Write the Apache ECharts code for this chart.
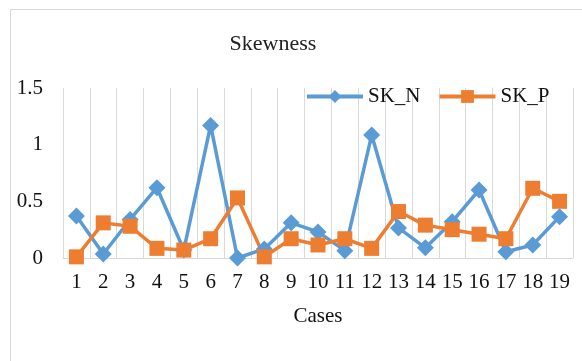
<!DOCTYPE html>
<html>
<head>
<meta charset="utf-8">
<script src="https://cdn.jsdelivr.net/npm/echarts@6/dist/echarts.min.js"></script>
<style>
html,body{margin:0;padding:0;background:#fff;}
#chart{width:582px;height:361px;}
</style>
</head>
<body>
<div id="chart"></div>
<script>
const categories = ['1','2','3','4','5','6','7','8','9','10','11','12','13','14','15','16','17','18','19'];
const skN = [0.37, 0.035, 0.34, 0.62, 0.07, 1.17, 0.0, 0.08, 0.31, 0.23, 0.065, 1.085, 0.265, 0.09, 0.32, 0.60, 0.055, 0.115, 0.365];
const skP = [0.01, 0.31, 0.28, 0.085, 0.07, 0.17, 0.53, 0.01, 0.17, 0.115, 0.17, 0.085, 0.41, 0.29, 0.25, 0.21, 0.17, 0.615, 0.50];
const yTicks = [0, 0.5, 1, 1.5];

const FONT = 'Liberation Serif';
const chart = echarts.init(document.getElementById('chart'), null, {renderer:'canvas'});
chart.setOption({
  animation: false,
  backgroundColor: '#fff',
  graphic: [{
    type: 'rect', left: 8, top: 7, silent: true,
    shape: {width: 640, height: 420},
    style: {fill: 'none', stroke: '#d9d9d9', lineWidth: 1}
  }],
  title: {
    text: 'Skewness',
    left: 'auto', right: 'auto',
    left: 268, top: 28, textAlign: 'center',
    textStyle: {fontFamily: FONT, fontSize: 22, fontWeight: 'normal', color: '#222'}
  },
  legend: {
    left: 300, top: 81,
    itemWidth: 56, itemHeight: 16, itemGap: 17,
    lineStyle: {width: 4},
    textStyle: {fontFamily: FONT, fontSize: 21, color: '#111'},
    data: ['SK_N', 'SK_P']
  },
  grid: {left: 63, right: 9, top: 88, bottom: 103},
  xAxis: {
    type: 'category',
    data: categories,
    boundaryGap: true,
    name: 'Cases',
    nameLocation: 'middle',
    nameGap: 48,
    nameTextStyle: {fontFamily: FONT, fontSize: 21, color: '#111'},
    axisLine: {lineStyle: {color: '#d9d9d9', width: 1}},
    axisTick: {show: false},
    splitLine: {show: true, interval: 0, lineStyle: {color: '#d9d9d9', width: 1}},
    axisLabel: {interval: 0, margin: 14, fontFamily: FONT, fontSize: 21, color: '#111'}
  },
  yAxis: {
    type: 'value',
    min: yTicks[0], max: yTicks[yTicks.length - 1], interval: 0.5,
    axisLine: {show: false},
    axisTick: {show: false},
    splitLine: {show: false},
    axisLabel: {margin: 20, fontFamily: FONT, fontSize: 21, color: '#111'}
  },
  series: [
    {
      name: 'SK_N', type: 'line', data: skN,
      symbol: 'diamond', symbolSize: 17,
      lineStyle: {color: '#5B9BD5', width: 3.5},
      itemStyle: {color: '#5B9BD5'}
    },
    {
      name: 'SK_P', type: 'line', data: skP,
      symbol: 'rect', symbolSize: 15,
      lineStyle: {color: '#ED7D31', width: 3.5},
      itemStyle: {color: '#ED7D31'}
    }
  ]
});
</script>
</body>
</html>
